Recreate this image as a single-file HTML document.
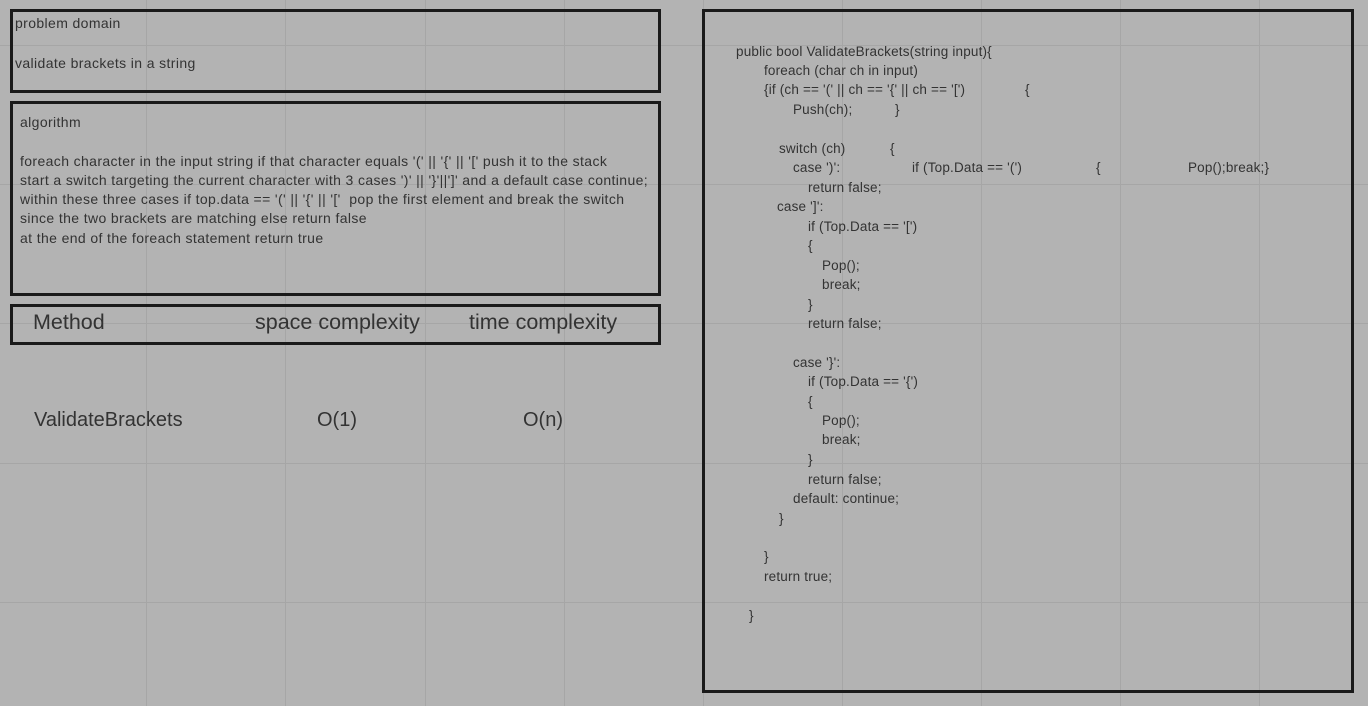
<!DOCTYPE html>
<html><head><meta charset="utf-8"><style>
body{margin:0;width:1368px;height:706px;overflow:hidden;background:#b3b3b3;position:relative;font-family:"Liberation Sans",sans-serif;color:#333;}
.vl{position:absolute;top:0;width:1px;height:706px;background:#a6a6a6}
.hl{position:absolute;left:0;height:1px;width:1368px;background:#a6a6a6}
.box{position:absolute;border:3px solid #1a1a1a;box-sizing:border-box}
.a{position:absolute;font-size:14px;white-space:pre;line-height:18px;letter-spacing:0.38px}
.t{position:absolute;font-size:13.5px;white-space:pre;line-height:18px;letter-spacing:0.18px}
.h{position:absolute;font-size:21.5px;white-space:pre;line-height:24px}
.r{position:absolute;font-size:20px;white-space:pre;line-height:22px}
</style></head><body>
<div class="vl" style="left:146px"></div><div class="vl" style="left:285px"></div><div class="vl" style="left:425px"></div><div class="vl" style="left:564px"></div><div class="vl" style="left:703px"></div><div class="vl" style="left:842px"></div><div class="vl" style="left:981px"></div><div class="vl" style="left:1120px"></div><div class="vl" style="left:1259px"></div>
<div class="hl" style="top:45px"></div><div class="hl" style="top:184px"></div><div class="hl" style="top:323px"></div><div class="hl" style="top:463px"></div><div class="hl" style="top:602px"></div>

<div class="box" style="left:10px;top:9px;width:651px;height:84px"></div>
<div class="box" style="left:10px;top:101px;width:651px;height:195px"></div>
<div class="box" style="left:10px;top:304px;width:651px;height:41px"></div>
<div class="box" style="left:702px;top:9px;width:652px;height:684px"></div>

<div class="a" style="left:15px;top:14px">problem domain</div>
<div class="a" style="left:15px;top:54px">validate brackets in a string</div>
<div class="a" style="left:20px;top:113px">algorithm</div>
<div class="a" style="left:20px;top:152px">foreach character in the input string if that character equals '(' || '{' || '[' push it to the stack</div>
<div class="a" style="left:20px;top:171px">start a switch targeting the current character with 3 cases ')' || '}'||']' and a default case continue;</div>
<div class="a" style="left:20px;top:190px">within these three cases if top.data == '(' || '{' || '['  pop the first element and break the switch</div>
<div class="a" style="left:20px;top:209px">since the two brackets are matching else return false</div>
<div class="a" style="left:20px;top:229px">at the end of the foreach statement return true</div>

<div class="h" style="left:33px;top:310px">Method</div>
<div class="h" style="left:255px;top:310px">space complexity</div>
<div class="h" style="left:469px;top:310px">time complexity</div>
<div class="r" style="left:34px;top:409px">ValidateBrackets</div>
<div class="r" style="left:317px;top:409px">O(1)</div>
<div class="r" style="left:523px;top:409px">O(n)</div>

<div class="t" style="left:736px;top:43px">public bool ValidateBrackets(string input){</div>
<div class="t" style="left:764px;top:62px">foreach (char ch in input)</div>
<div class="t" style="left:764px;top:81px">{if (ch == '(' || ch == '{' || ch == '[')</div>
<div class="t" style="left:1025px;top:81px">{</div>
<div class="t" style="left:793px;top:101px">Push(ch);</div>
<div class="t" style="left:895px;top:101px">}</div>
<div class="t" style="left:779px;top:140px">switch (ch)</div>
<div class="t" style="left:890px;top:140px">{</div>
<div class="t" style="left:793px;top:159px">case ')':</div>
<div class="t" style="left:912px;top:159px">if (Top.Data == '(')</div>
<div class="t" style="left:1096px;top:159px">{</div>
<div class="t" style="left:1188px;top:159px">Pop();break;}</div>
<div class="t" style="left:808px;top:179px">return false;</div>
<div class="t" style="left:777px;top:198px">case ']':</div>
<div class="t" style="left:808px;top:218px">if (Top.Data == '[')</div>
<div class="t" style="left:808px;top:237px">{</div>
<div class="t" style="left:822px;top:257px">Pop();</div>
<div class="t" style="left:822px;top:276px">break;</div>
<div class="t" style="left:808px;top:296px">}</div>
<div class="t" style="left:808px;top:315px">return false;</div>
<div class="t" style="left:793px;top:354px">case '}':</div>
<div class="t" style="left:808px;top:373px">if (Top.Data == '{')</div>
<div class="t" style="left:808px;top:393px">{</div>
<div class="t" style="left:822px;top:412px">Pop();</div>
<div class="t" style="left:822px;top:431px">break;</div>
<div class="t" style="left:808px;top:451px">}</div>
<div class="t" style="left:808px;top:471px">return false;</div>
<div class="t" style="left:793px;top:490px">default: continue;</div>
<div class="t" style="left:779px;top:510px">}</div>
<div class="t" style="left:764px;top:548px">}</div>
<div class="t" style="left:764px;top:568px">return true;</div>
<div class="t" style="left:749px;top:607px">}</div>
</body></html>
